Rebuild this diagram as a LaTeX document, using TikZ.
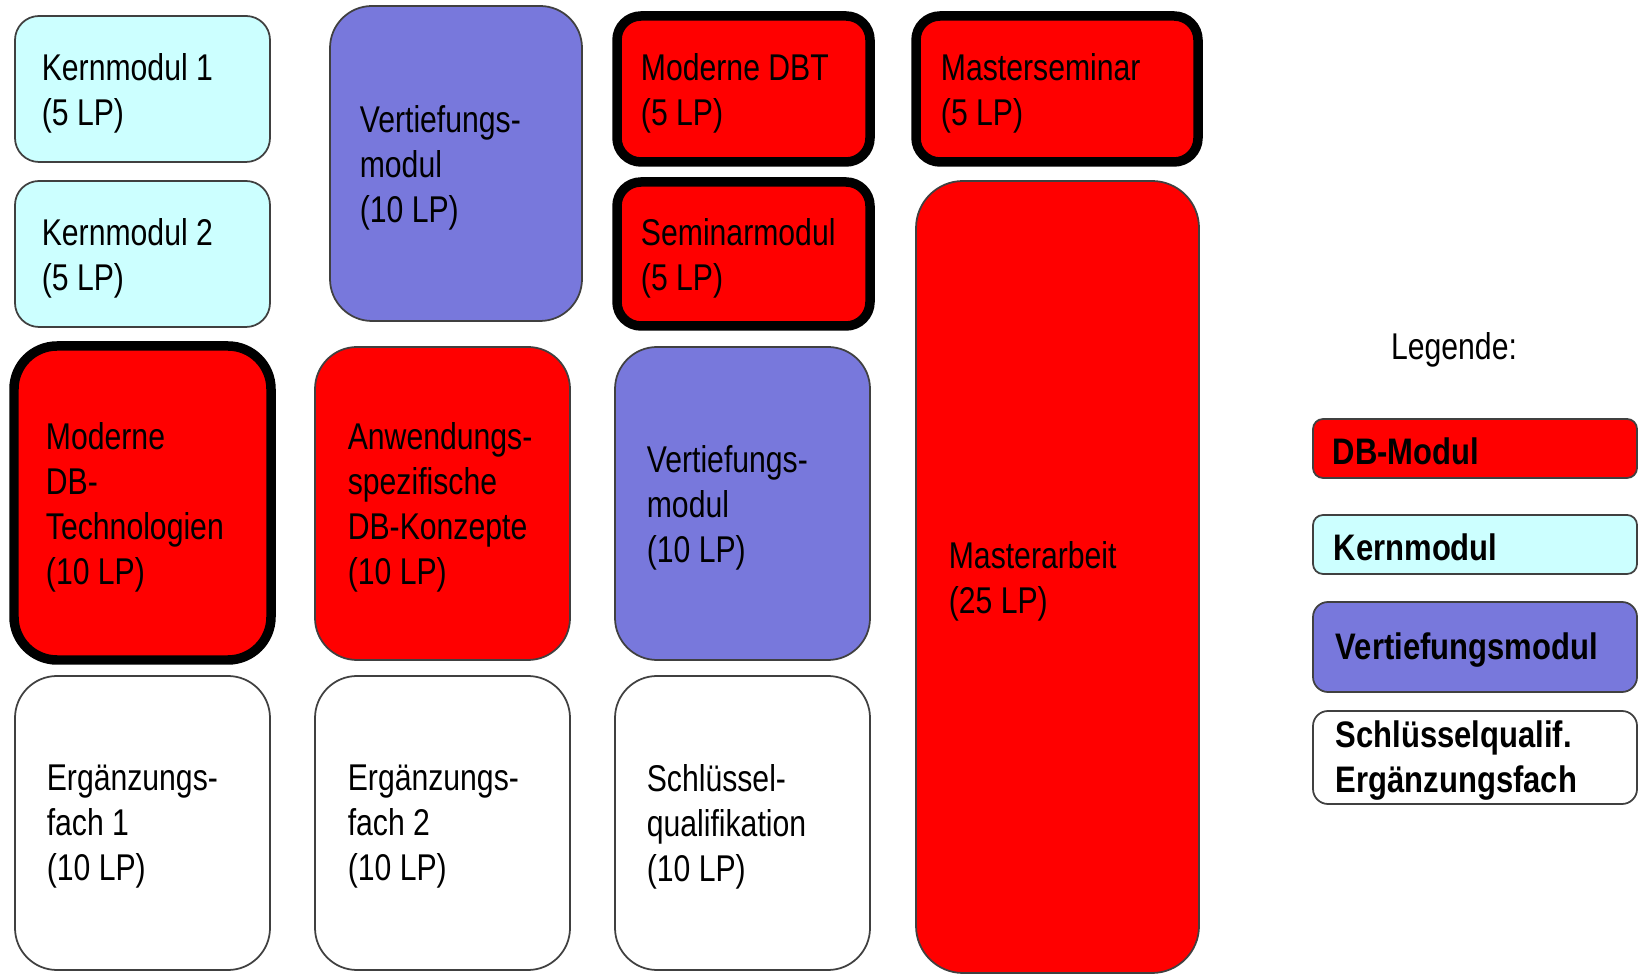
\documentclass[tikz,border=0pt]{standalone}
\usepackage{fontspec}
\setmainfont[FakeStretch=0.81,BoldFeatures={FakeStretch=0.84}]{Liberation Sans}
\usepackage{xcolor}
\usepackage{tikz}
\usetikzlibrary{positioning}

\definecolor{dbred}{HTML}{FF0000}
\definecolor{kerncyan}{HTML}{CCFFFF}
\definecolor{vertblue}{HTML}{7878DC}

\begin{document}
\begin{tikzpicture}[
    box/.style={rectangle, draw=black!75, line width=0.5pt, inner sep=0pt},
    dbbox/.style={box, fill=dbred},
    dbthick/.style={dbbox, draw=black, line width=2.7pt},
    kernbox/.style={box, fill=kerncyan},
    vertbox/.style={box, fill=vertblue},
    freebox/.style={box, fill=white},
    txt/.style={inner sep=0pt, align=left, yshift=-0.04cm, font=\fontsize{10.6}{12.8}\selectfont},
    legtxt/.style={inner sep=0pt, align=left, yshift=-0.03cm, font=\fontsize{10.5}{12.6}\selectfont\bfseries}
]
    \useasboundingbox (0,0) rectangle (16.38,-9.74);

    % Column 1
    \node[kernbox, minimum width=2.55cm, minimum height=1.46cm, rounded corners=0.24cm] (k1) at (1.425,-0.89) {};
    \node[kernbox, minimum width=2.55cm, minimum height=1.46cm, rounded corners=0.24cm] (k2) at (1.425,-2.54) {};
    \node[dbthick, minimum width=2.57cm, minimum height=3.14cm, rounded corners=0.43cm] (mdb) at (1.425,-5.03) {};
    \node[freebox, minimum width=2.55cm, minimum height=2.94cm, rounded corners=0.42cm] (erg1) at (1.425,-8.23) {};

    % Column 2
    \node[vertbox, minimum width=2.52cm, minimum height=3.15cm, rounded corners=0.42cm] (vt1) at (4.56,-1.635) {};
    \node[dbbox, minimum width=2.55cm, minimum height=3.13cm, rounded corners=0.42cm] (anw) at (4.425,-5.035) {};
    \node[freebox, minimum width=2.55cm, minimum height=2.94cm, rounded corners=0.42cm] (erg2) at (4.425,-8.23) {};

    % Column 3
    \node[dbthick, minimum width=2.53cm, minimum height=1.46cm, rounded corners=0.24cm] (dbt) at (7.435,-0.89) {};
    \node[dbthick, minimum width=2.53cm, minimum height=1.44cm, rounded corners=0.24cm] (sem) at (7.435,-2.54) {};
    \node[vertbox, minimum width=2.55cm, minimum height=3.13cm, rounded corners=0.42cm] (vt2) at (7.425,-5.035) {};
    \node[freebox, minimum width=2.55cm, minimum height=2.94cm, rounded corners=0.42cm] (sq) at (7.425,-8.23) {};

    % Column 4
    \node[dbthick, minimum width=2.82cm, minimum height=1.46cm, rounded corners=0.24cm] (msem) at (10.57,-0.89) {};
    \node[dbbox, minimum width=2.83cm, minimum height=7.92cm, rounded corners=0.47cm] (ma) at (10.575,-5.77) {};

    % Texts
    \node[txt, right=0.27 of k1.west] (k1t) {Kernmodul 1\\(5 LP)};
    \node[txt, right=0.27 of k2.west] (k2t) {Kernmodul 2\\(5 LP)};
    \node[txt, right=0.36 of mdb.west] (mdbt) {Moderne\\DB-\\Technologien\\(10 LP)};
    \node[txt, right=0.32 of erg1.west] (erg1t) {Ergänzungs-\\fach 1\\(10 LP)};
    \node[txt, right=0.30 of vt1.west] (vt1t) {Vertiefungs-\\modul\\(10 LP)};
    \node[txt, right=0.33 of anw.west] (anwt) {Anwendungs-\\spezifische\\DB-Konzepte\\(10 LP)};
    \node[txt, right=0.33 of erg2.west] (erg2t) {Ergänzungs-\\fach 2\\(10 LP)};
    \node[txt, right=0.28 of dbt.west] (dbtt) {Moderne DBT\\(5 LP)};
    \node[txt, right=0.28 of sem.west] (semt) {Seminarmodul\\(5 LP)};
    \node[txt, right=0.32 of vt2.west] (vt2t) {Vertiefungs-\\modul\\(10 LP)};
    \node[txt, right=0.32 of sq.west] (sqt) {Schlüssel-\\qualifikation\\(10 LP)};
    \node[txt, right=0.29 of msem.west] (msemt) {Masterseminar\\(5 LP)};
    \node[txt, right=0.33 of ma.west] (mat) {Masterarbeit\\(25 LP)};

    % Legend
    \node[txt] (leg) at (14.54,-3.46) {Legende:};
    \node[dbbox, minimum width=3.24cm, minimum height=0.59cm, rounded corners=0.10cm] (ldb) at (14.75,-4.485) {};
    \node[kernbox, minimum width=3.24cm, minimum height=0.59cm, rounded corners=0.10cm] (lk) at (14.75,-5.445) {};
    \node[vertbox, minimum width=3.24cm, minimum height=0.90cm, rounded corners=0.15cm] (lv) at (14.75,-6.47) {};
    \node[freebox, minimum width=3.24cm, minimum height=0.93cm, rounded corners=0.15cm] (ls) at (14.75,-7.575) {};
    \node[legtxt, right=0.20 of ldb.west] (ldbt) {DB-Modul};
    \node[legtxt, right=0.21 of lk.west] (lkt) {Kernmodul};
    \node[legtxt, right=0.23 of lv.west] (lvt) {Vertiefungsmodul};
    \node[legtxt, right=0.23 of ls.west] (lst) {Schlüsselqualif.\\Ergänzungsfach};
\end{tikzpicture}
\end{document}
